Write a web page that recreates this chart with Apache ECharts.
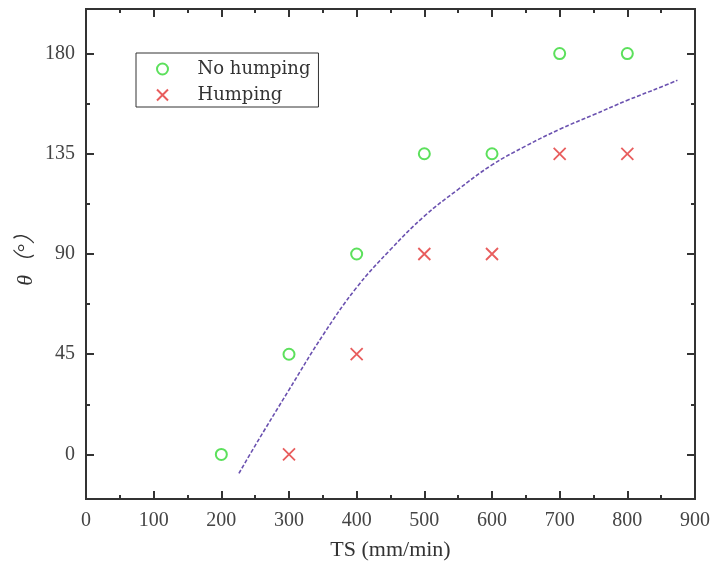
<!DOCTYPE html>
<html style="height: 100%">
<head>
  <meta charset="UTF-8">
  <title>ECharts</title>
  <script src="https://cdn.jsdelivr.net/npm/echarts/dist/echarts.min.js"></script>
</head>
<body style="height: 100%; margin: 0; background: #fff">
<div id="main" style="width: 714px; height: 566px"></div>

<script>
  // data
  const noHumpTS = [200, 300, 400, 500, 600, 700, 800];
  const noHumpTheta = [0, 45, 90, 135, 135, 180, 180];
  const humpTS = [300, 400, 500, 600, 700, 800];
  const humpTheta = [0, 45, 90, 90, 135, 135];
  // dashed boundary curve
  const fitTS = [226, 250, 300, 350, 400, 450, 500, 550, 600, 650, 700, 750, 800, 850, 874];
  const fitTheta = [-8.5, 4, 29, 53.5, 75, 92, 107, 119, 130, 138.5, 146, 152.5, 159, 165, 168];
  const yMajor = [0, 45, 90, 135, 180];
  const yMinor = [22.5, 67.5, 112.5, 157.5];

  const font = '"Liberation Serif", "Noto Sans CJK SC", serif';
  const legendFont = '"DejaVu Serif", "Liberation Serif", serif';
  const axisColor = '#333';
  const xCross = 'path://M0,0L10,10M10,0L0,10';

  function zip(a, b) {
    return a.map((v, i) => [v, b[i]]);
  }

  function yAxisDef(position, ticks, len, withLabels) {
    return {
      type: 'value',
      position: position,
      min: -20,
      max: 200,
      axisLine: { show: true, lineStyle: { color: axisColor, width: 2 } },
      axisTick: { show: true, inside: true, length: len, customValues: ticks, lineStyle: { color: axisColor, width: 2 } },
      axisLabel: withLabels
        ? { show: true, customValues: ticks, color: '#444', fontSize: 20, fontFamily: font, margin: 11 }
        : { show: false },
      splitLine: { show: false }
    };
  }

  function xAxisDef(position, withLabels) {
    return {
      type: 'value',
      position: position,
      min: 0,
      max: 900,
      interval: 100,
      axisLine: { show: true, onZero: false, lineStyle: { color: axisColor, width: 2 } },
      axisTick: { show: true, inside: true, length: 8, lineStyle: { color: axisColor, width: 2 } },
      minorTick: { show: true, splitNumber: 2, length: 4, lineStyle: { color: axisColor, width: 2 } },
      axisLabel: withLabels
        ? { show: true, color: '#444', fontSize: 20, fontFamily: font, margin: 12 }
        : { show: false },
      splitLine: { show: false }
    };
  }

  const main = yAxisDef('left', yMajor, 8, true);
  main.name = 'θ（°）';
  main.nameLocation = 'middle';
  main.nameGap = 49;
  main.nameMoveOverlap = false;
  main.nameTextStyle = { color: '#333', fontSize: 22, fontFamily: font, fontStyle: 'italic' };

  const bottom = xAxisDef('bottom', true);
  bottom.name = 'TS (mm/min)';
  bottom.nameLocation = 'middle';
  bottom.nameGap = 40;
  bottom.nameTextStyle = { color: '#333', fontSize: 22, fontFamily: font };

  let option = {
    backgroundColor: '#fff',
    animation: false,
    grid: { left: 86, right: 19, top: 9, bottom: 67, containLabel: false },
    legend: {
      orient: 'vertical',
      left: 136,
      top: 53,
      padding: [7, 8, 3, 20],
      itemGap: 8,
      itemWidth: 12,
      itemHeight: 11,
      borderColor: '#333',
      borderWidth: 1,
      textStyle: { color: '#333', fontSize: 18, fontFamily: legendFont, padding: [0, 0, 0, 24] },
      data: ['No humping', 'Humping']
    },
    xAxis: [bottom, xAxisDef('top', false)],
    yAxis: [
      main,
      yAxisDef('left', yMinor, 4, false),
      yAxisDef('right', yMajor, 8, false),
      yAxisDef('right', yMinor, 4, false)
    ],
    series: [
      {
        name: 'No humping',
        type: 'scatter',
        symbol: 'emptyCircle',
        symbolSize: 11,
        data: zip(noHumpTS, noHumpTheta),
        itemStyle: { color: '#33d833', borderColor: '#33d833', borderWidth: 2 }
      },
      {
        name: 'Humping',
        type: 'scatter',
        symbol: xCross,
        symbolSize: 12,
        data: zip(humpTS, humpTheta),
        itemStyle: { color: 'transparent', borderColor: '#e23535', borderWidth: 1.8 }
      },
      {
        name: 'fit',
        type: 'line',
        smooth: 0.4,
        showSymbol: false,
        data: zip(fitTS, fitTheta),
        lineStyle: { color: '#6b52b0', width: 1.6, type: [4, 2] },
        z: 1
      }
    ]
  };

  let chart = echarts.init(document.getElementById('main'));
  chart.setOption(option);
</script>
</body>
</html>
